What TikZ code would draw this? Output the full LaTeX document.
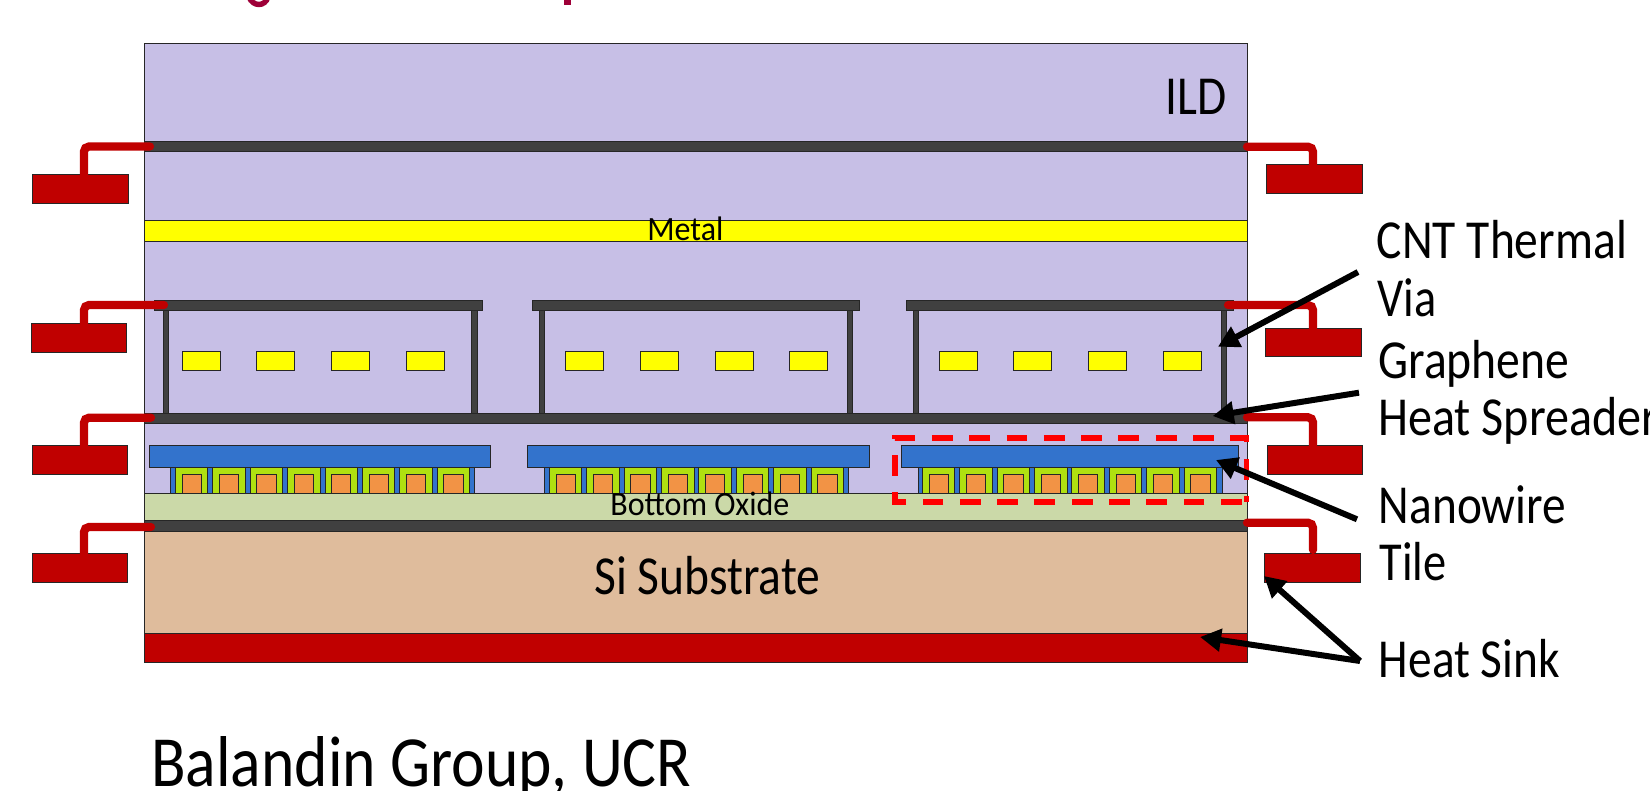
\documentclass[tikz,border=0pt]{standalone}
\usepackage{fontspec}
\usepackage{graphicx}
\usetikzlibrary{arrows.meta}
\setmainfont{Carlito}
\definecolor{ild}{HTML}{C7BFE6}
\definecolor{bar}{HTML}{404040}
\definecolor{sink}{HTML}{C00000}
\definecolor{oxide}{HTML}{CBD9A8}
\definecolor{si}{HTML}{DFBC9C}
\definecolor{nwblue}{HTML}{3373CC}
\definecolor{nwgreen}{HTML}{B0E010}
\definecolor{nworange}{HTML}{F29345}
\definecolor{title}{HTML}{9E0038}
\definecolor{ylw}{HTML}{FFFF00}
\definecolor{dashred}{HTML}{FF0000}
\newcommand{\fs}[1]{\fontsize{#1}{#1}\selectfont}
\newcommand{\fitw}[3]{\resizebox{#1pt}{\height}{\fs{#2}#3}}
\tikzset{
  box/.style={draw=black!85,line width=0.5pt},
  barbox/.style={box,fill=bar},
  padbox/.style={box,fill=sink},
  heatline/.style={draw=sink,line width=4.1pt,line cap=round,rounded corners=2.5pt},
  callout/.style={draw=black,line width=3pt,-{Triangle[length=10.5pt,width=11pt]},shorten >=0pt},
  lbl/.style={anchor=base west,inner sep=0pt,text=black},
  dashbox/.style={draw=dashred,line width=2.7pt,dash pattern=on 10.4pt off 8.25pt}
}
\begin{document}
\begin{tikzpicture}[x=0.5pt,y=-0.5pt]
\useasboundingbox (0,0) rectangle (1650,791);
\clip (0,0) rectangle (1650,791);
\fill[white] (0,0) rectangle (1650,791);
% cropped title fragments
\draw[title,line width=2.7pt] (249,-3) .. controls (253,7) and (265,7) .. (268,-3);
\fill[title] (564,-1) rectangle (571,5);
% layers
\draw[box,fill=ild] (144.5,43.3) rectangle (1247,493);
\draw[box,fill=ylw] (144.5,221) rectangle (1247,242);
\draw[barbox] (144.5,142) rectangle (1247,152);
% via groups
\foreach \tl/\tr/\pa/\pb/\ya/\yb/\yc/\yd in {
  154/482/163/471.4/182/256.8/331.4/406,
  532.5/859/539/847/565/640/715/789,
  906/1233/913/1221/939/1013.7/1088.3/1163}{
  \draw[barbox] (\pa,310) rectangle ++(5.6,103);
  \draw[barbox] (\pb,310) rectangle ++(5.6,103);
  \draw[barbox] (\tl,300.5) rectangle (\tr,310.5);
  \foreach \q in {\ya,\yb,\yc,\yd}{
    \draw[box,fill=ylw] (\q,352) rectangle ++(38,19);
  }
}
\draw[barbox] (144.5,413) rectangle (1247,423);
% nanowire tiles
\foreach \bx/\bw/\sx/\cx in {149.3/341.3/170.4/175.4, 527.9/341.3/544/549.3, 901.3/337/918/922.3}{
  \draw[box,fill=nwblue] (\sx,460) rectangle ++(304,33);
  \draw[box,fill=nwblue] (\bx,445.7) rectangle ++(\bw,21.3);
  \foreach \i in {0,...,7}{
    \draw[box,fill=nwgreen] ({\cx+37.4*\i},467) rectangle ++(32.5,26);
    \draw[box,fill=nworange] ({\cx+6.7+37.4*\i},474.3) rectangle ++(19.2,18.7);
  }
}
\draw[box,fill=oxide] (144.5,493) rectangle (1247,520.5);
\draw[barbox] (144.5,520.5) rectangle (1247,531);
\draw[box,fill=si] (144.5,531) rectangle (1247,633);
\draw[box,fill=sink] (144.5,633) rectangle (1247,662);
% heat sink pads
\draw[padbox] (32,174.7) rectangle (128,203.3);
\draw[padbox] (31.4,323.7) rectangle (126.8,352.3);
\draw[padbox] (32.5,445.7) rectangle (127.9,474.3);
\draw[padbox] (32.5,553.7) rectangle (127.9,582.3);
\draw[padbox] (1266.7,165) rectangle (1362.3,194);
\draw[padbox] (1265.7,328.7) rectangle (1361,357);
\draw[padbox] (1267.3,445.7) rectangle (1362.5,474.3);
\draw[padbox] (1264.3,553.3) rectangle (1360,582);
% heat lines
\draw[heatline] (150,146.5) -- (84,146.5) -- (84,175);
\draw[heatline] (164,305) -- (84,305) -- (84,324);
\draw[heatline] (151,417.7) -- (84,417.7) -- (84,446);
\draw[heatline] (151,527) -- (84,527) -- (84,554);
\draw[heatline] (1247,146.7) -- (1313,146.7) -- (1313,165);
\draw[heatline] (1228,305) -- (1313,305) -- (1313,329);
\draw[heatline] (1247,417.3) -- (1313,417.3) -- (1313,446);
\draw[heatline] (1247,522.7) -- (1313,522.7) -- (1313,550);
% dashed outline
\draw[dashbox] (1241.7,502) -- (895,502) -- (895,438) -- (1246.7,438) -- (1246.7,502);
% labels
\node[lbl] (ildt) at (1165,114.5) {\fitw{30.5}{27.5}{ILD}};
\node[lbl] (metal) at (647,241) {\fitw{38}{17}{Metal}};
\node[lbl] (oxidet) at (610,515) {\fitw{89.5}{17}{Bottom Oxide}};
\node[lbl] (sit) at (594,594) {\fitw{113}{27.5}{Si Substrate}};
\node[lbl] (cnt) at (1376.5,258.5) {\fitw{125}{27.5}{CNT Thermal}};
\node[lbl] (via) at (1377,316) {\fitw{29.5}{27.5}{Via}};
\node[lbl] (gr) at (1378,379) {\fitw{95.5}{27.5}{Graphene}};
\node[lbl] (hs) at (1378,436) {\fitw{140}{27.5}{Heat Spreader}};
\node[lbl] (nw) at (1378.5,523.5) {\fitw{93.5}{27.5}{Nanowire}};
\node[lbl] (tile) at (1379,580) {\fitw{33.5}{27.5}{Tile}};
\node[lbl] (hsink) at (1378.5,677.5) {\fitw{90.5}{27.5}{Heat Sink}};
\node[lbl] (bal) at (151,786) {\fitw{270}{36}{Balandin Group, UCR}};
% callouts
\coordinate (cntS) at (1358,272);
\coordinate (cntT) at (1218,346.7);
\coordinate (grS) at (1359,392.7);
\coordinate (grT) at (1212.7,416);
\coordinate (nwS) at (1357,519.3);
\coordinate (nwT) at (1216,460);
\coordinate (hsS) at (1360,661);
\coordinate (hsA) at (1264,576);
\coordinate (hsB) at (1200,637);
\draw[callout] (cntS) -- (cntT);
\draw[callout] (grS) -- (grT);
\draw[callout] (nwS) -- (nwT);
\draw[callout] (hsS) -- (hsA);
\draw[callout] (hsS) -- (hsB);
\end{tikzpicture}
\end{document}
